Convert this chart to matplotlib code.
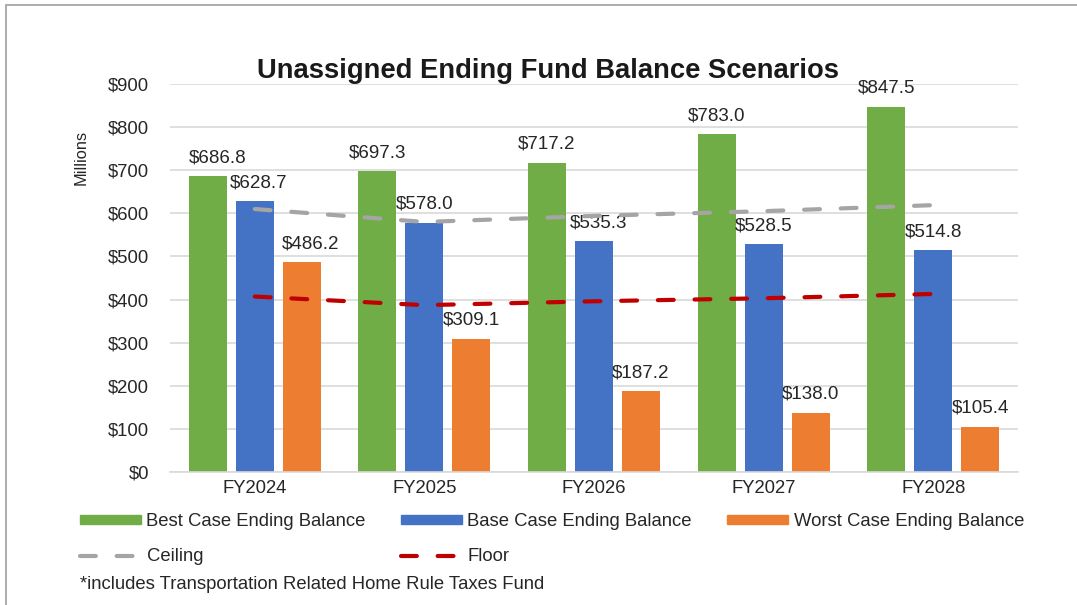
import matplotlib
matplotlib.use("Agg")
import matplotlib.pyplot as plt
from matplotlib.patches import Rectangle, Patch
from matplotlib.lines import Line2D
import numpy as np

plt.rcParams['font.family'] = ['Liberation Sans', 'DejaVu Sans']

categories = ["FY2024", "FY2025", "FY2026", "FY2027", "FY2028"]
best_case = [686.8, 697.3, 717.2, 783.0, 847.5]
base_case = [628.7, 578.0, 535.3, 528.5, 514.8]
worst_case = [486.2, 309.1, 187.2, 138.0, 105.4]
ceiling = [610, 580, 594, 605, 619]
floor_vals = [407, 387, 396, 403, 413]
yticks = [0, 100, 200, 300, 400, 500, 600, 700, 800, 900]
series_names = ["Best Case Ending Balance", "Base Case Ending Balance",
                "Worst Case Ending Balance", "Ceiling", "Floor"]
title = "Unassigned Ending Fund Balance Scenarios"
footnote = "*includes Transportation Related Home Rule Taxes Fund"

GREEN = "#70AD47"
BLUE = "#4472C4"
ORANGE = "#ED7D31"
GRAY = "#A5A5A5"
RED = "#C00000"
TXT = "#262626"
FS = 13.3
LW = 3.0
DASH = (3.8, 5.0)

# small horizontal nudges (points) of individual data labels: (series index, category index) -> dx
label_nudge = {(0, 0): 7, (1, 0): 3, (2, 0): 6, (1, 2): 3}

W, H = 1077, 605
fig = plt.figure(figsize=(W / 100, H / 100), dpi=100)
ax = fig.add_axes([170 / W, 1 - 472 / H, 848 / W, 388 / H])

x = np.arange(len(categories))
pitch = 0.277
bw = 0.224
series = [(best_case, GREEN, -pitch), (base_case, BLUE, 0.0), (worst_case, ORANGE, pitch)]
for si, (vals, col, off) in enumerate(series):
    ax.bar(x + off, vals, width=bw, color=col, zorder=2, linewidth=0)
    for ci, (xi, v) in enumerate(zip(x + off, vals)):
        dx = label_nudge.get((si, ci), 0)
        ax.annotate(f"${v:,.1f}", (xi, v), xytext=(dx, 10), textcoords="offset points",
                    ha="center", va="baseline", fontsize=13.5, color=TXT)

ax.plot(x, ceiling, color=GRAY, lw=LW, dashes=DASH, dash_capstyle="round", zorder=3)
ax.plot(x, floor_vals, color=RED, lw=LW, dashes=DASH, dash_capstyle="round", zorder=3)

ax.set_xlim(-0.5, len(categories) - 0.5)
ax.set_ylim(0, 900)
ax.set_yticks(yticks)
ax.set_yticklabels([f"${t}" for t in yticks])
ax.set_xticks(x)
ax.set_xticklabels(categories)
ax.tick_params(axis="both", length=0, labelsize=FS, colors=TXT)
ax.tick_params(axis="y", pad=15)
ax.tick_params(axis="x", pad=6)
ax.yaxis.grid(True, color="#D9D9D9", lw=1.2, zorder=0)
ax.set_axisbelow(True)
for s in ["top", "right", "left"]:
    ax.spines[s].set_visible(False)
ax.spines["bottom"].set_color("#D9D9D9")
ax.spines["bottom"].set_linewidth(1.2)

fig.text(548 / W, 1 - 78 / H, title, ha="center", va="baseline",
         fontsize=19.7, fontweight="bold", color="#1a1a1a")
fig.text(81 / W, 1 - 157 / H, "Millions", rotation=90, ha="center", va="center",
         fontsize=11.8, color=TXT)

handles = [Patch(color=GREEN),
           Line2D([], [], color=GRAY, lw=LW, dashes=DASH, dash_capstyle="round"),
           Patch(color=BLUE),
           Line2D([], [], color=RED, lw=LW, dashes=DASH, dash_capstyle="round"),
           Patch(color=ORANGE)]
labels = [series_names[0], series_names[3], series_names[1], series_names[4], series_names[2]]
leg = fig.legend(handles, labels, ncol=3, loc="upper left",
                 bbox_to_anchor=(80 / W, 1 - 513 / H), frameon=False,
                 fontsize=FS, handlelength=3.3, handleheight=0.35,
                 handletextpad=0.3, columnspacing=1.9, labelspacing=1.0,
                 borderpad=0, borderaxespad=0)
for t in leg.get_texts():
    t.set_color(TXT)

fig.text(80 / W, 1 - 589 / H, footnote, ha="left", va="baseline", fontsize=FS, color=TXT)

fig.patches.append(Rectangle((6 / W, -0.1), 1.2, (1 - 4.5 / H) + 0.1,
                             transform=fig.transFigure, fill=False,
                             edgecolor="#A6A6A6", lw=1.3))

fig.savefig("out.png", dpi=100)
